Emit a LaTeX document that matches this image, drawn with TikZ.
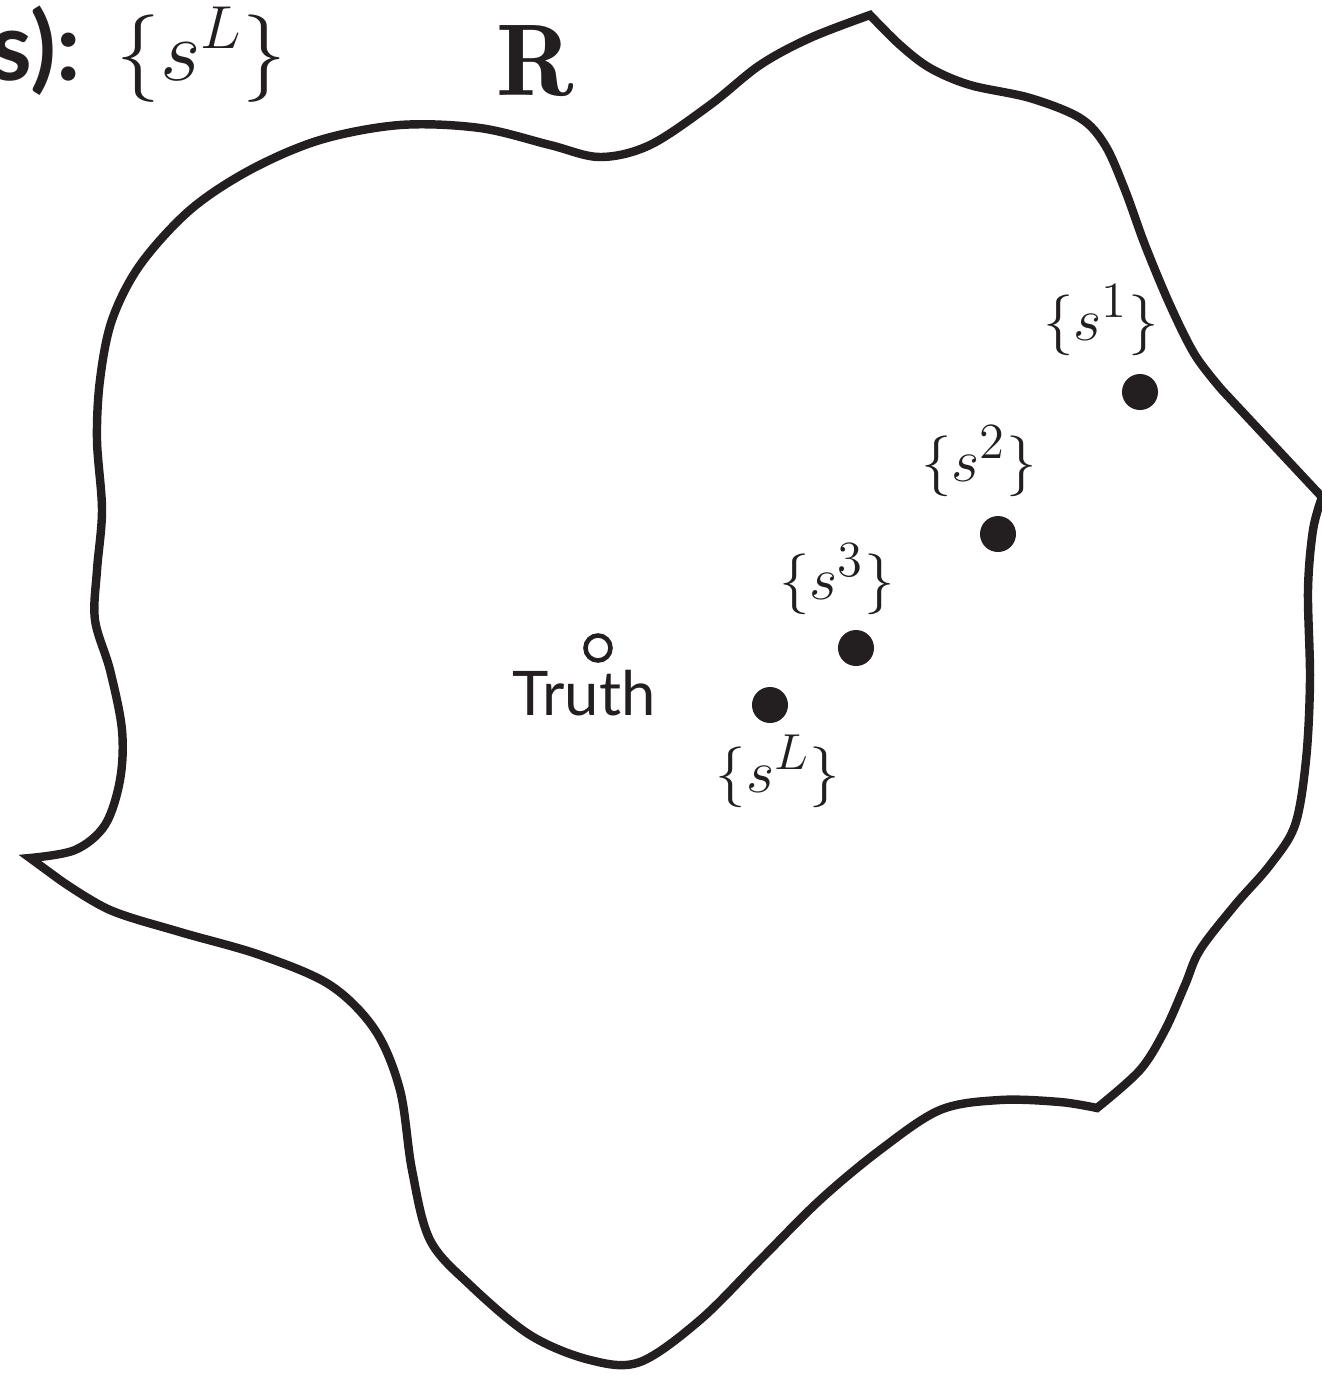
\documentclass[tikz,border=0pt]{standalone}
\usepackage{fontspec}
\setsansfont{Lato}
\usepackage{amsmath}
\usetikzlibrary{calc}
\definecolor{inkblack}{RGB}{35,31,32}
\tikzset{
  region/.style={line width=2.4pt,inkblack,line join=miter},
  sample/.style={circle,fill=inkblack,inner sep=0pt,minimum size=0.36cm},
  truth/.style={circle,draw=inkblack,line width=1.3pt,inner sep=0pt,minimum size=0.25cm},
  setlbl/.style={anchor=base,inkblack,font=\fontsize{19}{22}\selectfont}
}
\begin{document}
\begin{tikzpicture}[x=0.01cm,y=-0.01cm]
        \useasboundingbox (0,0) rectangle (1322,1375);
        % Region outline
        \draw[region]
          plot[smooth,tension=0.55] coordinates {(30,858) (75,850) (105,825) (120,780) (122,730) (110,670) (95,620) (97,570) (102,510) (97,440) (100,380) (112,320) (140,265) (190,210) (250,170) (320,140) (400,125) (480,128) (550,145) (600,157) (650,145) (710,105) (760,65) (810,38) (870,15)}
          -- plot[smooth,tension=0.55] coordinates {(870,15) (900,45) (930,68) (970,85) (1030,98) (1080,118) (1105,145) (1125,190) (1145,245) (1170,305) (1195,355) (1222,390)}
          -- (1322,497)
          -- plot[smooth,tension=0.55] coordinates {(1322,497) (1313,530) (1308,590) (1310,680) (1306,760) (1295,825) (1270,865) (1235,905) (1200,950) (1185,985) (1165,1030) (1140,1070) (1097,1108)}
          -- plot[smooth,tension=0.55] coordinates {(1097,1108) (1060,1102) (1000,1100) (940,1110) (880,1150) (820,1200) (760,1260) (700,1320) (640,1362) (590,1360) (530,1335) (470,1285) (430,1240) (412,1170) (400,1090) (375,1030) (330,985) (260,955) (180,932) (110,910) (60,880)}
          -- cycle;
        % Titles
        \node[anchor=base,inkblack,font=\fontsize{29}{32}\selectfont] (rname) at (535,95) {$\mathbf{R}$};
        \node[anchor=base east,inkblack,font=\fontsize{27}{30}\selectfont] (head) at (299,80) {\textsf{\bfseries s):}\hspace{0.38em}$\{s^L\}$};
        % Samples
        \node[sample] (s1) at (1140,392) {};
        \node[sample] (s2) at (998,534) {};
        \node[sample] (s3) at (856,648) {};
        \node[sample] (sL) at (770,705) {};
        \node[setlbl] (l1) at (1101,340) {$\{s^1\}$};
        \node[setlbl] (l2) at (979,481) {$\{s^2\}$};
        \node[setlbl] (l3) at (837,599) {$\{s^3\}$};
        \node[setlbl] (lL) at (778,792) {$\{s^L\}$};
        % Truth
        \node[truth] (tru) at (598,648) {};
        \node[anchor=base,inkblack,font=\sffamily\fontsize{17.5}{20}\selectfont] (trulbl) at (584,715) {Truth};
\end{tikzpicture}
\end{document}
